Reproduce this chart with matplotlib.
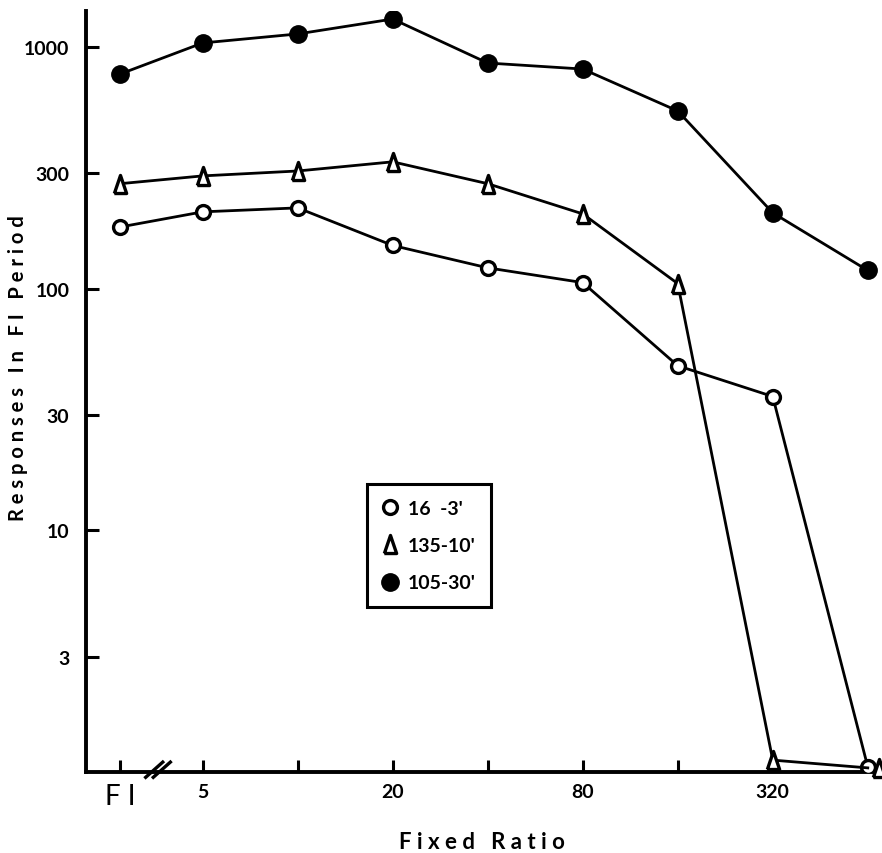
import numpy as np
import matplotlib
matplotlib.use("Agg")
import matplotlib.pyplot as plt
from matplotlib.lines import Line2D
import matplotlib.transforms as mtransforms

# ---- data ----
ratios = ["FI", "5", "10", "20", "40", "80", "160", "320", "640"]
tick_labels = ["F I", "5", "", "20", "", "80", "", "320", ""]
s_16_3 = [180, 208, 216, 151, 122, 106, 48, 35.8, 1.05]
s_135_10 = [272, 293, 307, 335, 272, 204, 105, 1.12, 1.04]
s_105_30 = [773, 1040, 1133, 1306, 859, 811, 544, 206, 119]
legend_labels = ["16  -3'", "135-10'", "105-30'"]
y_ticks = [3, 10, 30, 100, 300, 1000]

plt.rcParams['font.family'] = ['Lato', 'DejaVu Sans']

fig = plt.figure(figsize=(8.82, 8.54), dpi=100)
ax = fig.add_axes([86/882, 1-773/854, 1-86/882 - 0.001, (773-12)/854])

# positions: compressed gap after FI (axis break)
idx = np.arange(len(ratios), dtype=float)
x = idx - 0.13 * (idx > 0)

tri = [(-0.68, -1.0), (0.68, -1.0), (0.0, 1.0), (-0.68, -1.0)]

lw = 2.0
ax.plot(x, s_16_3, color='black', lw=lw, marker='o', ms=10, mfc='white',
        mec='black', mew=2.4, zorder=3)
ax.plot(x, s_135_10, color='black', lw=lw, zorder=3)
ax.plot(x[:-1], s_135_10[:-1], ls='none', marker=tri, ms=13, mfc='white',
        mec='black', mew=2.4, zorder=4)
off = mtransforms.offset_copy(ax.transData, fig=fig, x=11, y=0, units='dots')
ax.plot(x[-1:], s_135_10[-1:], ls='none', marker=tri, ms=13, mfc='white',
        mec='black', mew=2.4, zorder=4, transform=off, clip_on=False)
ax.plot(x, s_105_30, color='black', lw=lw, marker='o', ms=12.5, mfc='black',
        mec='black', zorder=3)

ax.set_yscale('log')
ax.set_ylim(1.0, 1410)
ax.set_xlim(-(120-86)/95, (881-120)/95)

ax.set_yticks(y_ticks)
ax.set_yticklabels([str(t) for t in y_ticks])
ax.yaxis.set_minor_locator(matplotlib.ticker.NullLocator())
ax.set_xticks(x)
ax.set_xticklabels(tick_labels)

ax.tick_params(axis='both', direction='in', width=2.2, length=9, labelsize=14,
               pad=8, colors='black')
ax.tick_params(axis='y', pad=12)
for lbl in ax.get_xticklabels() + ax.get_yticklabels():
    lbl.set_fontweight('bold')
for lbl in ax.get_xticklabels():
    if lbl.get_text() == "F I":
        lbl.set_fontsize(20)
        lbl.set_fontweight('normal')

for side in ['top', 'right']:
    ax.spines[side].set_visible(False)
for side in ['left', 'bottom']:
    ax.spines[side].set_linewidth(2.8)

# axis break marks
trans = mtransforms.blended_transform_factory(ax.transData, ax.transAxes)
for x0 in (0.27, 0.35):
    ax.plot([x0, x0 + 0.18], [-0.007, 0.013], transform=trans,
            color='black', lw=2.4, clip_on=False)

fig.text(482/882, 1-843/854, "F i x e d   R a t i o", ha='center', va='center',
         fontsize=16, fontweight='bold')
fig.text(18/882, 1-368/854, "R e s p o n s e s   I n   F I   P e r i o d",
         ha='center', va='center', rotation=90, fontsize=14.5, fontweight='bold')

handles = [
    Line2D([], [], ls='none', marker='o', ms=10, mfc='white', mec='black', mew=2.4),
    Line2D([], [], ls='none', marker=tri, ms=13, mfc='white', mec='black', mew=2.4),
    Line2D([], [], ls='none', marker='o', ms=12.5, mfc='black', mec='black'),
]
leg = ax.legend(handles, legend_labels, loc='upper left',
                bbox_to_anchor=(367/882, 1-485/854), bbox_transform=fig.transFigure,
                frameon=True, fancybox=False, edgecolor='black', framealpha=1,
                prop={'size': 14, 'weight': 'bold'},
                labelspacing=1.05, handlelength=0.8, handletextpad=0.5,
                borderpad=0.8, borderaxespad=0)
leg.get_frame().set_linewidth(2.2)

fig.savefig("out.png", dpi=100)
